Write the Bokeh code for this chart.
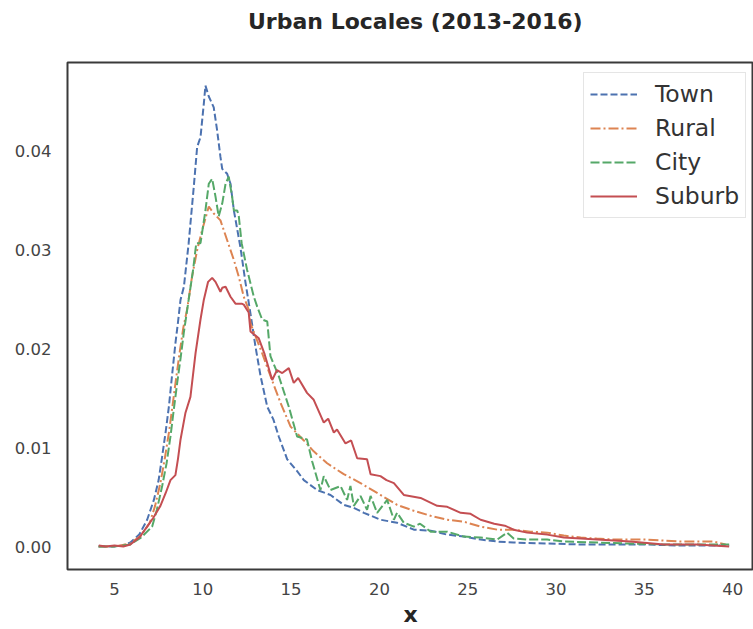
from bokeh.plotting import figure
from bokeh.models import Range1d, FixedTicker, PrintfTickFormatter, Legend, LegendItem, Div
from bokeh.layouts import column
from bokeh.embed import file_html
from bokeh.resources import INLINE

# ---- data ----
title_text = "Urban Locales (2013-2016)"

town_x = [4.1, 5.0, 5.5, 5.9, 6.4, 6.85, 7.23, 7.5, 7.7, 7.9, 8.08, 8.25, 8.45, 8.6, 8.74,
          8.93, 9.2, 9.49, 9.68, 9.87, 10.06, 10.15, 10.34, 10.62, 10.81, 11.0, 11.1, 11.38,
          11.57, 11.76, 12.13, 12.42, 12.7, 12.98, 13.27, 13.65, 14.0, 14.3, 14.78, 15.34,
          15.72, 16.47, 17.23, 17.98, 18.55, 19.12, 20.06, 21.0, 21.95, 22.9, 23.84, 24.78,
          25.73, 26.67, 27.6, 29.5, 31.4, 33.3, 35.1, 37.0, 39.8]
town_y = [0.0001, 0.0001, 0.0002, 0.0005, 0.0013, 0.0028, 0.0048, 0.0068, 0.0092, 0.0117,
          0.0142, 0.0172, 0.0206, 0.0228, 0.0250, 0.0263, 0.0307, 0.0364, 0.0404, 0.0414,
          0.0448, 0.0466, 0.0455, 0.0444, 0.0421, 0.0394, 0.0382, 0.0377, 0.0367, 0.0340,
          0.0303, 0.0267, 0.0236, 0.0203, 0.0173, 0.0142, 0.0129, 0.0112, 0.0089, 0.0077,
          0.0068, 0.0058, 0.0053, 0.0043, 0.0040, 0.0035, 0.0028, 0.0025, 0.0018, 0.0017,
          0.0013, 0.0011, 0.0008, 0.0006, 0.0005, 0.0004, 0.0003, 0.0003, 0.0003, 0.0002,
          0.0002]

rural_x = [4.1, 5.0, 5.9, 6.5, 7.0, 7.3, 7.6, 7.85, 8.1, 8.3, 8.5, 8.7, 8.9, 9.11, 9.39,
           9.68, 9.96, 10.34, 10.62, 11.0, 11.38, 11.76, 12.04, 12.32, 12.6, 12.7, 13.36,
           13.83, 14.4, 14.97, 15.72, 16.28, 17.04, 17.98, 18.93, 20.06, 21.0, 21.95, 22.9,
           23.84, 24.78, 25.73, 26.67, 27.6, 28.55, 29.5, 30.44, 31.4, 32.3, 33.27, 34.2,
           35.14, 36.1, 37.0, 38.0, 38.9, 39.6]
rural_y = [0.0001, 0.0001, 0.0004, 0.0012, 0.0025, 0.0042, 0.0065, 0.0090, 0.0118, 0.0145,
           0.0172, 0.0198, 0.0222, 0.0240, 0.0273, 0.0300, 0.0320, 0.0344, 0.0337, 0.0330,
           0.0310, 0.0290, 0.0273, 0.0253, 0.0240, 0.0226, 0.0196, 0.0173, 0.0146, 0.0122,
           0.0108, 0.0097, 0.0085, 0.0074, 0.0065, 0.0053, 0.0043, 0.0037, 0.0032, 0.0028,
           0.0026, 0.0021, 0.0018, 0.0018, 0.0016, 0.0015, 0.0012, 0.0010, 0.0009, 0.0008,
           0.0008, 0.0008, 0.0007, 0.0006, 0.0006, 0.0006, 0.0003]

city_x = [4.1, 5.0, 5.9, 6.5, 7.13, 7.4, 7.7, 7.95, 8.17, 8.35, 8.55, 8.75, 8.92, 9.2, 9.45,
          9.63, 9.87, 10.15, 10.34, 10.53, 10.72, 10.9, 11.1, 11.29, 11.47, 11.66, 11.76,
          11.95, 12.04, 12.2, 12.51, 12.89, 13.08, 13.36, 13.65, 13.83, 14.3, 14.87, 15.34,
          15.9, 16.19, 16.66, 16.85, 17.23, 17.8, 18.17, 18.36, 18.55, 18.93, 19.3, 19.5,
          19.87, 20.44, 20.82, 21.0, 21.38, 21.95, 22.3, 22.9, 23.84, 24.78, 25.73, 26.67,
          27.23, 27.6, 28.36, 29.5, 30.5, 32.33, 34.2, 36.1, 38.0, 39.8]
city_y = [0.0001, 0.0001, 0.0003, 0.0010, 0.0021, 0.0038, 0.0062, 0.0085, 0.0112, 0.0138,
          0.0166, 0.0192, 0.0216, 0.0250, 0.0280, 0.0307, 0.0307, 0.0340, 0.0367, 0.0372,
          0.0354, 0.0334, 0.0347, 0.0367, 0.0374, 0.0354, 0.0340, 0.0340, 0.0334, 0.0307,
          0.0280, 0.0253, 0.0243, 0.0230, 0.0228, 0.0193, 0.0173, 0.0142, 0.0112, 0.0109,
          0.0087, 0.0058, 0.0072, 0.0058, 0.0062, 0.0048, 0.0062, 0.0042, 0.0052, 0.0038,
          0.0052, 0.0035, 0.0048, 0.0028, 0.0035, 0.0025, 0.0021, 0.0024, 0.0016, 0.0016,
          0.0011, 0.0010, 0.0008, 0.0015, 0.0009, 0.0008, 0.0008, 0.0006, 0.0005, 0.0004,
          0.0003, 0.0003, 0.0003]

suburb_x = [4.11, 4.5, 5.0, 5.5, 5.9, 6.4, 6.85, 7.2, 7.6, 7.9, 8.17, 8.45, 8.6, 8.74, 9.02,
            9.3, 9.59, 9.87, 10.06, 10.3, 10.53, 10.72, 11.0, 11.1, 11.29, 11.57, 11.85,
            12.2, 12.32, 12.6, 12.7, 13.17, 13.5, 13.93, 14.2, 14.5, 14.87, 15.15, 15.4,
            15.9, 16.28, 16.85, 17.1, 17.42, 17.6, 18.08, 18.4, 18.74, 19.3, 19.5, 20.06,
            20.4, 20.82, 21.38, 22.33, 23.27, 23.84, 24.6, 25.16, 25.73, 26.5, 27.1, 27.6,
            28.36, 29.5, 30.44, 31.4, 32.33, 34.2, 36.1, 38.0, 39.8]
suburb_y = [0.0002, 0.0001, 0.0002, 0.0001, 0.0003, 0.0010, 0.0021, 0.0030, 0.0042, 0.0055,
            0.0068, 0.0073, 0.0090, 0.0109, 0.0136, 0.0152, 0.0196, 0.0230, 0.0250, 0.0268,
            0.0272, 0.0268, 0.0258, 0.0262, 0.0263, 0.0253, 0.0246, 0.0246, 0.0245, 0.0237,
            0.0218, 0.0211, 0.0195, 0.0169, 0.0179, 0.0176, 0.0181, 0.0166, 0.0171, 0.0156,
            0.0149, 0.0126, 0.0130, 0.0116, 0.0119, 0.0105, 0.0108, 0.0090, 0.0089, 0.0074,
            0.0072, 0.0068, 0.0065, 0.0053, 0.0050, 0.0042, 0.0041, 0.0035, 0.0034, 0.0028,
            0.0024, 0.0022, 0.0018, 0.0015, 0.0013, 0.0010, 0.0009, 0.0008, 0.0006, 0.0003,
            0.0003, 0.0001]

x_ticks = [5, 10, 15, 20, 25, 30, 35, 40]
y_ticks = [0.00, 0.01, 0.02, 0.03, 0.04]

FONT = "DejaVu Sans"

TITLE_H = 44

header = Div(text=title_text, width=753, height=TITLE_H, margin=0,
             styles={"font-family": FONT, "font-size": "22px", "font-weight": "bold",
                     "color": "#262626", "line-height": f"{TITLE_H}px",
                     "text-indent": "248px", "white-space": "nowrap"})

p = figure(width=753, height=629 - TITLE_H, output_backend="svg", toolbar_location=None,
           x_range=Range1d(2.34, 41.18), y_range=Range1d(-0.00222, 0.04893),
           min_border_left=67, min_border_right=0, min_border_top=62 - TITLE_H,
           min_border_bottom=10, margin=0)

p.outline_line_color = "#3a3a3a"
p.outline_line_width = 2
p.grid.visible = False
p.background_fill_color = "white"
p.border_fill_color = "white"

for ax in (p.xaxis[0], p.yaxis[0]):
    ax.axis_line_color = None
    ax.major_tick_line_color = None
    ax.minor_tick_line_color = None
    ax.major_tick_in = 0
    ax.major_tick_out = 0
    ax.minor_tick_in = 0
    ax.minor_tick_out = 0
    ax.major_label_text_font = FONT
    ax.major_label_text_font_size = "16.5px"
    ax.major_label_text_color = "#444444"

p.xaxis.ticker = FixedTicker(ticks=x_ticks)
p.yaxis.ticker = FixedTicker(ticks=y_ticks)
p.yaxis.formatter = PrintfTickFormatter(format="%.2f")
p.xaxis.major_label_standoff = 13
p.yaxis.major_label_standoff = 16

p.xaxis.axis_label = "x"
p.xaxis.axis_label_text_font = FONT
p.xaxis.axis_label_text_font_size = "22px"
p.xaxis.axis_label_text_font_style = "bold"
p.xaxis.axis_label_text_color = "#262626"
p.xaxis.axis_label_standoff = 4

r_town = p.line(town_x, town_y, line_color="#4C72B0", line_width=2, line_dash="7 3")
r_rural = p.line(rural_x, rural_y, line_color="#DD8452", line_width=2, line_dash="10 3 2 3")
r_city = p.line(city_x, city_y, line_color="#55A868", line_width=2, line_dash="9 3")
r_suburb = p.line(suburb_x, suburb_y, line_color="#C44E52", line_width=2)

legend = Legend(items=[
    LegendItem(label="Town", renderers=[r_town]),
    LegendItem(label="Rural", renderers=[r_rural]),
    LegendItem(label="City", renderers=[r_city]),
    LegendItem(label="Suburb", renderers=[r_suburb]),
], location=(516, 351))
legend.label_text_font = FONT
legend.label_text_font_size = "23.5px"
legend.label_text_color = "#333333"
legend.label_height = 30
legend.glyph_height = 30
legend.glyph_width = 47
legend.label_standoff = 18
legend.spacing = 4
legend.padding = 6
legend.margin = 0
legend.border_line_color = "#cccccc"
legend.border_line_width = 1.5
legend.background_fill_color = "white"
legend.background_fill_alpha = 1.0
p.add_layout(legend)

layout = column(header, p, spacing=0, margin=0)

open("out.html", "w").write(file_html(layout, INLINE))
